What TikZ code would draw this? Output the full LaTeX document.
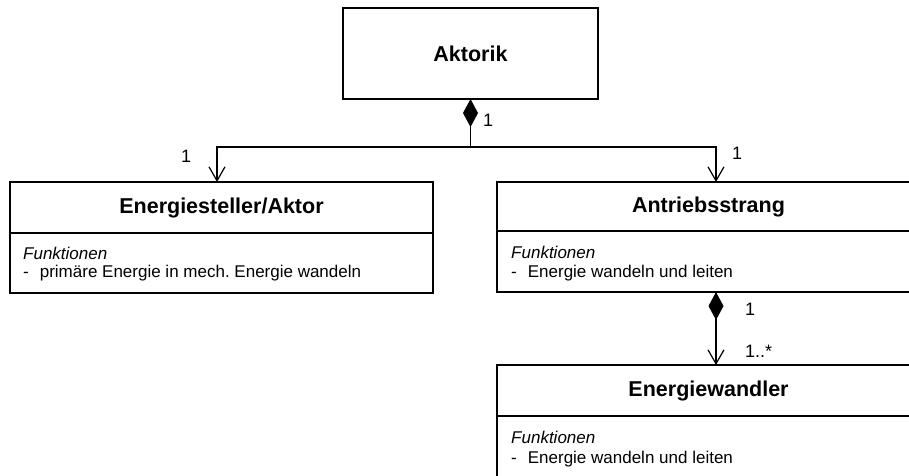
\documentclass[tikz,border=0pt]{standalone}
\usepackage{fontspec}
\setmainfont{Liberation Sans}
\usetikzlibrary{arrows.meta}
\frenchspacing
\begin{document}
\begin{tikzpicture}[x=1pt,y=-1pt,
  box/.style={draw=black, line width=2pt, rectangle, inner sep=0pt, outer sep=0pt, anchor=north west},
  title/.style={font=\fontsize{21.5}{25}\selectfont\bfseries},
  body/.style={font=\fontsize{17}{20}\selectfont, anchor=base west, inner sep=0pt},
  mult/.style={font=\fontsize{18}{21}\selectfont, anchor=base west, inner sep=0pt},
  link/.style={line width=1.2pt},
  comp/.style={link, {Diamond[length=28pt,width=15pt]}-},
  nav/.style={link, -{Straight Barb[length=14pt,width=16pt,line width=1.2pt]}}
]
\useasboundingbox (0,0) rectangle (909,475);
\clip (0,0) rectangle (909,475);

% Aktorik
\node[box, minimum width=255pt, minimum height=91pt] (akt) at (343,8) {};
\node[title] at (akt.center) {Aktorik};

% Energiesteller/Aktor
\node[box, minimum width=423pt, minimum height=51pt] (es) at (10,182) {};
\node[title] at (es.center) {Energiesteller/Aktor};
\node[box, minimum width=423pt, minimum height=60pt] (esf) at (es.south west) {};
\node[body] (esf1) at (23,259) {\itshape Funktionen};
\node[body] (esf2) at (23,277) {-\hspace{11pt}primäre Energie in mech. Energie wandeln};

% Antriebsstrang
\node[box, minimum width=423pt, minimum height=49pt] (as) at (497,182) {};
\node[title] at (as.center) {Antriebsstrang};
\node[box, minimum width=423pt, minimum height=61pt] (asf) at (as.south west) {};
\node[body] (asf1) at (511,258) {\itshape Funktionen};
\node[body] (asf2) at (511,277) {-\hspace{11pt}Energie wandeln und leiten};

% Energiewandler
\node[box, minimum width=423pt, minimum height=51pt] (ew) at (497,365) {};
\node[title] at (ew.center) {Energiewandler};
\node[box, minimum width=423pt, minimum height=80pt] (ewf) at (ew.south west) {};
\node[body] (ewf1) at (511,443) {\itshape Funktionen};
\node[body] (ewf2) at (511,463) {-\hspace{11pt}Energie wandeln und leiten};

% Aggregation Aktorik -> Energiesteller/Aktor, Antriebsstrang
\coordinate (j) at (akt.south |- 0,147);
\draw[comp] (akt.south) -- (j);
\draw[nav] (j) -| ([xshift=-4.5pt]es.north);
\draw[nav] (j) -| ([xshift=7.5pt]as.north);

% Aggregation Antriebsstrang -> Energiewandler
\draw[comp] ([xshift=7.5pt]asf.south) -- ([xshift=7.5pt]ew.north);
\draw[nav] ([xshift=7.5pt]asf.south) -- ([xshift=7.5pt]ew.north);

% Multiplicities
\node[mult] (m1) at (483,126) {1};
\node[mult] (m2) at (181,162) {1};
\node[mult] (m3) at (732,159) {1};
\node[mult] (m4) at (745,315) {1};
\node[mult] (m5) at (745,357) {1..*};
\end{tikzpicture}
\end{document}
